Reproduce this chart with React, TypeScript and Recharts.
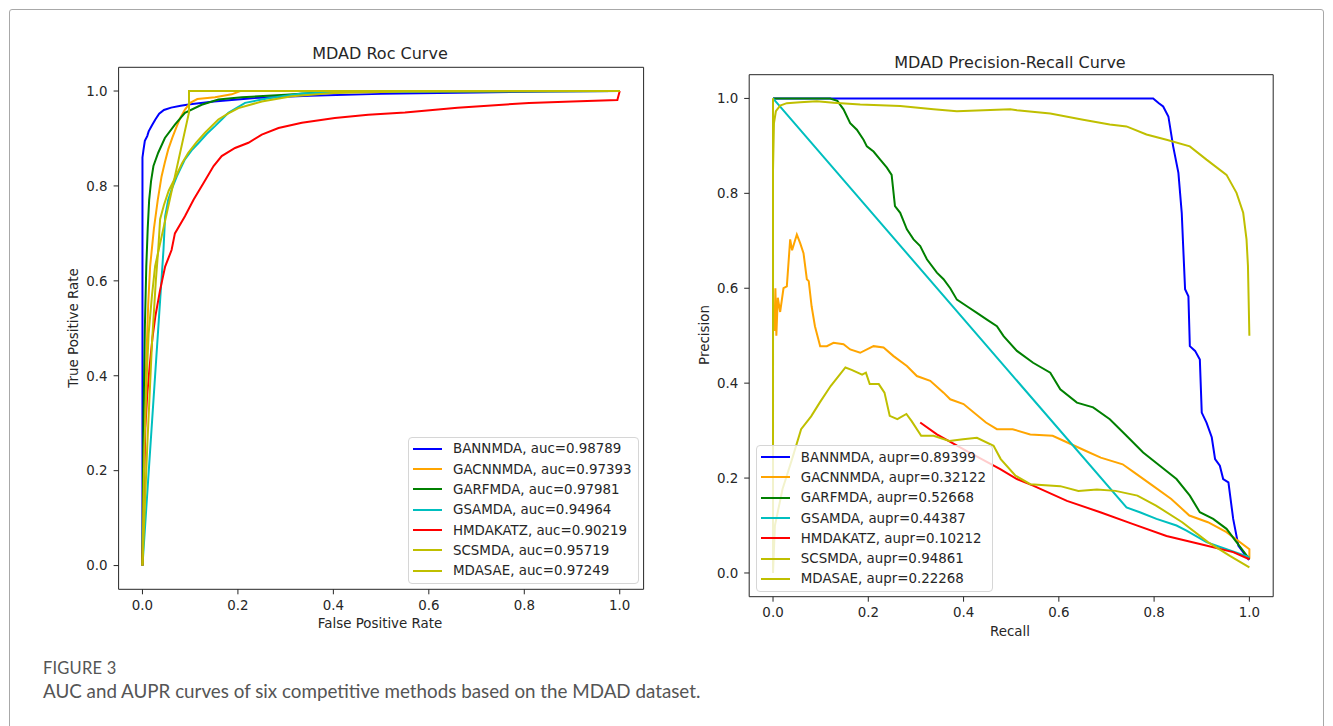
import { LineChart, Line, XAxis, YAxis, Legend, ReferenceArea } from 'recharts'

type Pt = [number, number]

const methods = ['BANNMDA', 'GACNNMDA', 'GARFMDA', 'GSAMDA', 'HMDAKATZ', 'SCSMDA', 'MDASAE']
const colors = ['#0000ff', '#ffa500', '#008000', '#00bfbf', '#ff0000', '#bfbf00', '#bfbf00']
const aucValues = ['0.98789', '0.97393', '0.97981', '0.94964', '0.90219', '0.95719', '0.97249']
const auprValues = ['0.89399', '0.32122', '0.52668', '0.44387', '0.10212', '0.94861', '0.22268']
const ticks = [0, 0.2, 0.4, 0.6, 0.8, 1.0]

// ROC curves: [fpr, tpr]
const rocBann: Pt[] = [
  [0, 0], [0, 0.86], [0.002, 0.875], [0.005, 0.895], [0.01, 0.905], [0.013, 0.915], [0.02, 0.928],
  [0.027, 0.94], [0.035, 0.952], [0.045, 0.96], [0.06, 0.965], [0.08, 0.969], [0.1, 0.972],
  [0.15, 0.978], [0.23, 0.985], [0.35, 0.99], [0.5, 0.994], [0.7, 0.997], [0.85, 0.999], [1, 1],
]
const rocGacnn: Pt[] = [
  [0, 0], [0.003, 0.2], [0.007, 0.4], [0.012, 0.55], [0.016, 0.63], [0.024, 0.71], [0.032, 0.77],
  [0.04, 0.82], [0.047, 0.85], [0.054, 0.877], [0.063, 0.903], [0.072, 0.926], [0.08, 0.945],
  [0.089, 0.961], [0.1, 0.975], [0.115, 0.983], [0.152, 0.987], [0.187, 0.993], [0.205, 1], [1, 1],
]
const rocGarf: Pt[] = [
  [0, 0], [0.002, 0.3], [0.005, 0.5], [0.008, 0.63], [0.011, 0.71], [0.014, 0.77], [0.018, 0.81],
  [0.023, 0.842], [0.033, 0.87], [0.047, 0.901], [0.068, 0.929], [0.089, 0.954], [0.124, 0.971],
  [0.159, 0.982], [0.208, 0.987], [0.3, 0.992], [0.37, 0.997], [0.5, 0.999], [1, 1],
]
const rocGsa: Pt[] = [
  [0, 0], [0.044, 0.665], [0.0475, 0.736], [0.054, 0.771], [0.062, 0.795], [0.072, 0.82],
  [0.089, 0.856], [0.103, 0.875], [0.117, 0.89], [0.135, 0.91], [0.152, 0.926], [0.166, 0.94],
  [0.18, 0.954], [0.215, 0.975], [0.264, 0.985], [0.334, 0.995], [0.45, 0.999], [1, 1],
]
const rocHmda: Pt[] = [
  [0, 0], [0.002, 0.1], [0.004, 0.2], [0.006, 0.29], [0.01, 0.36], [0.015, 0.42], [0.021, 0.48],
  [0.027, 0.525], [0.037, 0.581], [0.0475, 0.63], [0.061, 0.665], [0.068, 0.7], [0.089, 0.736],
  [0.107, 0.771], [0.128, 0.806], [0.149, 0.842], [0.166, 0.863], [0.194, 0.88], [0.222, 0.891],
  [0.25, 0.908], [0.285, 0.922], [0.334, 0.933], [0.403, 0.943], [0.473, 0.95], [0.55, 0.955],
  [0.66, 0.965], [0.81, 0.975], [0.9, 0.978], [0.995, 0.981], [1, 1],
]
const rocScs: Pt[] = [
  [0, 0], [0.01, 0.25], [0.02, 0.47], [0.028, 0.6], [0.033, 0.665], [0.037, 0.73], [0.045, 0.76],
  [0.055, 0.79], [0.07, 0.82], [0.083, 0.848], [0.096, 0.87], [0.113, 0.892], [0.131, 0.912],
  [0.159, 0.94], [0.18, 0.953], [0.201, 0.964], [0.25, 0.978], [0.313, 0.989], [0.4, 0.996],
  [0.55, 0.999], [1, 1],
]
const rocMdasae: Pt[] = [
  [0, 0], [0.004, 0.25], [0.009, 0.4], [0.013, 0.49], [0.02, 0.57], [0.0265, 0.631],
  [0.0975, 0.955], [0.0975, 1], [1, 1],
]

// PR curves: [recall, precision]
const prBann: Pt[] = [
  [0, 1], [0.798, 1], [0.81, 0.99], [0.819, 0.983], [0.83, 0.962], [0.84, 0.899], [0.851, 0.843],
  [0.858, 0.759], [0.861, 0.689], [0.865, 0.598], [0.872, 0.583], [0.875, 0.478], [0.886, 0.468],
  [0.896, 0.45], [0.9, 0.338], [0.91, 0.317], [0.921, 0.286], [0.928, 0.24], [0.938, 0.226],
  [0.945, 0.198], [0.956, 0.191], [0.966, 0.114], [0.977, 0.057], [0.998, 0.029], [1, 0.03],
]
const prGacnn: Pt[] = [
  [0, 0.42], [0, 0.56], [0.003, 0.51], [0.005, 0.6], [0.007, 0.5], [0.01, 0.58], [0.015, 0.55],
  [0.022, 0.6], [0.029, 0.604], [0.036, 0.703], [0.04, 0.68], [0.046, 0.7], [0.05, 0.713],
  [0.057, 0.695], [0.064, 0.674], [0.071, 0.619], [0.075, 0.615], [0.081, 0.562], [0.088, 0.52],
  [0.099, 0.478], [0.113, 0.478], [0.127, 0.485], [0.148, 0.482], [0.162, 0.471], [0.183, 0.464],
  [0.211, 0.478], [0.232, 0.475], [0.253, 0.457], [0.281, 0.436], [0.302, 0.415], [0.33, 0.405],
  [0.358, 0.38], [0.372, 0.366], [0.4, 0.356], [0.447, 0.317], [0.47, 0.303], [0.503, 0.303],
  [0.54, 0.292], [0.587, 0.289], [0.618, 0.275], [0.657, 0.257], [0.688, 0.243], [0.734, 0.229],
  [0.758, 0.212], [0.797, 0.184], [0.836, 0.156], [0.874, 0.121], [0.913, 0.107], [0.952, 0.086],
  [1, 0.05], [1, 0.03],
]
const prGarf: Pt[] = [
  [0, 1], [0.12, 1], [0.135, 0.995], [0.148, 0.977], [0.162, 0.948], [0.176, 0.934], [0.19, 0.913],
  [0.197, 0.899], [0.211, 0.888], [0.225, 0.871], [0.239, 0.854], [0.249, 0.839], [0.256, 0.773],
  [0.267, 0.759], [0.281, 0.724], [0.295, 0.703], [0.309, 0.689], [0.323, 0.661], [0.344, 0.633],
  [0.358, 0.619], [0.372, 0.6], [0.386, 0.576], [0.407, 0.562], [0.428, 0.548], [0.449, 0.534],
  [0.47, 0.52], [0.484, 0.499], [0.512, 0.468], [0.546, 0.443], [0.582, 0.422], [0.603, 0.387],
  [0.638, 0.359], [0.672, 0.349], [0.707, 0.324], [0.742, 0.289], [0.777, 0.254], [0.812, 0.226],
  [0.847, 0.198], [0.875, 0.163], [0.896, 0.128], [0.924, 0.114], [0.952, 0.093], [0.973, 0.065],
  [1, 0.029],
]
const prGsa: Pt[] = [
  [0, 1], [0.742, 0.138], [0.77, 0.128], [0.805, 0.114], [0.847, 0.1], [0.868, 0.089],
  [0.91, 0.065], [0.952, 0.05], [1, 0.033],
]
const prHmda: Pt[] = [
  [0.309, 0.317], [0.344, 0.292], [0.407, 0.257], [0.477, 0.219], [0.512, 0.198], [0.546, 0.184],
  [0.617, 0.152], [0.687, 0.128], [0.756, 0.103], [0.826, 0.078], [0.896, 0.061], [0.966, 0.044],
  [1, 0.029],
]
const prScs: Pt[] = [
  [0, 1], [0, 0.85], [0.002, 0.948], [0.006, 0.973], [0.015, 0.985], [0.029, 0.99], [0.057, 0.992],
  [0.092, 0.994], [0.127, 0.991], [0.183, 0.987], [0.267, 0.984], [0.337, 0.977], [0.386, 0.973],
  [0.498, 0.977], [0.512, 0.975], [0.582, 0.968], [0.651, 0.955], [0.707, 0.945], [0.742, 0.941],
  [0.784, 0.924], [0.826, 0.913], [0.875, 0.899], [0.91, 0.871], [0.952, 0.839], [0.973, 0.801],
  [0.987, 0.759], [0.994, 0.703], [0.997, 0.647], [1, 0.5],
]
const prMdasae: Pt[] = [
  [0, 1], [0, 0], [0.004, 0.1], [0.02, 0.177], [0.04, 0.24], [0.059, 0.303], [0.08, 0.33],
  [0.098, 0.359], [0.121, 0.394], [0.152, 0.433], [0.165, 0.428], [0.187, 0.418], [0.195, 0.422],
  [0.203, 0.398], [0.222, 0.398], [0.234, 0.38], [0.245, 0.331], [0.261, 0.324], [0.28, 0.335],
  [0.291, 0.32], [0.311, 0.289], [0.337, 0.289], [0.37, 0.278], [0.399, 0.282], [0.428, 0.285],
  [0.463, 0.268], [0.478, 0.24], [0.509, 0.205], [0.54, 0.187], [0.603, 0.183], [0.641, 0.173],
  [0.68, 0.176], [0.719, 0.173], [0.765, 0.163], [0.804, 0.142], [0.859, 0.107], [0.913, 0.065],
  [0.959, 0.036], [1, 0.012],
]

const rocCurves = [rocBann, rocGacnn, rocGarf, rocGsa, rocHmda, rocScs, rocMdasae]
const prCurves = [prBann, prGacnn, prGarf, prGsa, prHmda, prScs, prMdasae]

const FONT = 'DejaVu Sans, sans-serif'
const INK = '#262626'
const tickStyle = { fontSize: 13.4, fill: INK, fontFamily: FONT }

const toRows = (pts: Pt[]) => pts.map(([x, y]) => ({ x, y }))

function BoxLegend(props: any) {
  return (
    <div
      style={{
        background: 'rgba(255,255,255,0.8)',
        border: '1px solid #d6d6d6',
        borderRadius: 4,
        padding: '1px 6px 2px 4px',
        fontFamily: FONT,
        fontSize: 13.4,
        color: INK,
        whiteSpace: 'nowrap',
      }}
    >
      {(props.payload || []).map((p: any) => (
        <div key={p.value} style={{ display: 'flex', alignItems: 'center', height: 20.3 }}>
          <span style={{ width: 29, borderTop: `2px solid ${p.color}`, marginRight: 11 }} />
          <span>{p.value}</span>
        </div>
      ))}
    </div>
  )
}

interface PanelProps {
  left: number
  width: number
  height: number
  margin: { top: number; right: number; bottom: number; left: number }
  curves: Pt[][]
  labels: string[]
  legendAt: { left: number; top: number }
}

function Panel({ left, width, height, margin, curves, labels, legendAt }: PanelProps) {
  return (
    <div style={{ position: 'absolute', left, top: 0 }}>
      <LineChart width={width} height={height} margin={margin}>
        <XAxis
          type="number"
          dataKey="x"
          domain={[-0.05, 1.05]}
          ticks={ticks}
          tickFormatter={(v: number) => v.toFixed(1)}
          tick={tickStyle}
          tickSize={5}
          tickMargin={6}
          axisLine={false}
          tickLine={{ stroke: INK }}
          height={30}
          allowDataOverflow
        />
        <YAxis
          type="number"
          dataKey="y"
          domain={[-0.05, 1.05]}
          ticks={ticks}
          tickFormatter={(v: number) => v.toFixed(1)}
          tick={tickStyle}
          tickSize={5}
          tickMargin={6}
          axisLine={false}
          tickLine={{ stroke: INK }}
          width={50}
          allowDataOverflow
        />
        <ReferenceArea x1={-0.05} x2={1.05} y1={-0.05} y2={1.05} fill="none" stroke={INK} strokeWidth={1} />
        {curves.map((pts, i) => (
          <Line
            key={labels[i]}
            data={toRows(pts)}
            dataKey="y"
            name={labels[i]}
            type="linear"
            stroke={colors[i]}
            strokeWidth={2}
            dot={false}
            activeDot={false}
            isAnimationActive={false}
          />
        ))}
        <Legend
          layout="vertical"
          align="center"
          verticalAlign="middle"
          content={BoxLegend}
          itemSorter={(item: any) => labels.indexOf(item.value)}
          wrapperStyle={{ left: legendAt.left, top: legendAt.top, width: 'auto' }}
        />
      </LineChart>
    </div>
  )
}

const textAt = (x: number, y: number, size: number, rotate = 0): React.CSSProperties => ({
  position: 'absolute',
  left: x,
  top: y,
  transform: `translate(-50%, -50%) rotate(${rotate}deg)`,
  fontFamily: FONT,
  fontSize: size,
  color: INK,
  whiteSpace: 'nowrap',
})

export default function App() {
  return (
    <div style={{ position: 'absolute', left: 0, top: 0, width: 1333, height: 726, overflow: 'hidden', background: '#fff' }}>
      <div
        style={{
          position: 'absolute',
          left: 9,
          top: 9,
          width: 1313,
          height: 760,
          border: '1px solid #a8a8a8',
          borderRadius: 3,
        }}
      />
      <Panel
        left={0}
        width={660}
        height={640}
        margin={{ top: 67.3, right: 16.4, bottom: 20.7, left: 68.6 }}
        curves={rocCurves}
        labels={methods.map((m, i) => `${m}, auc=${aucValues[i]}`)}
        legendAt={{ left: 408, top: 436.7 }}
      />
      <Panel
        left={680}
        width={620}
        height={640}
        margin={{ top: 74.7, right: 26.8, bottom: 13.3, left: 19.2 }}
        curves={prCurves}
        labels={methods.map((m, i) => `${m}, aupr=${auprValues[i]}`)}
        legendAt={{ left: 75.8, top: 445 }}
      />
      <div style={textAt(380, 53, 16)}>MDAD Roc Curve</div>
      <div style={textAt(380, 623, 13.4)}>False Positive Rate</div>
      <div style={textAt(73, 328, 13.4, -90)}>True Positive Rate</div>
      <div style={textAt(1010, 62, 16)}>MDAD Precision-Recall Curve</div>
      <div style={textAt(1010, 631, 13.4)}>Recall</div>
      <div style={textAt(704, 335, 13.4, -90)}>Precision</div>
      <div
        style={{
          position: 'absolute',
          left: 43,
          top: 658,
          fontFamily: 'Lato, sans-serif',
          fontSize: 16.5,
          color: '#555',
          letterSpacing: 0.2,
        }}
      >
        FIGURE 3
      </div>
      <div
        style={{
          position: 'absolute',
          left: 43,
          top: 679,
          fontFamily: 'Lato, sans-serif',
          fontSize: 18.8,
          color: '#555',
        }}
      >
        AUC and AUPR curves of six competitive methods based on the MDAD dataset.
      </div>
    </div>
  )
}
